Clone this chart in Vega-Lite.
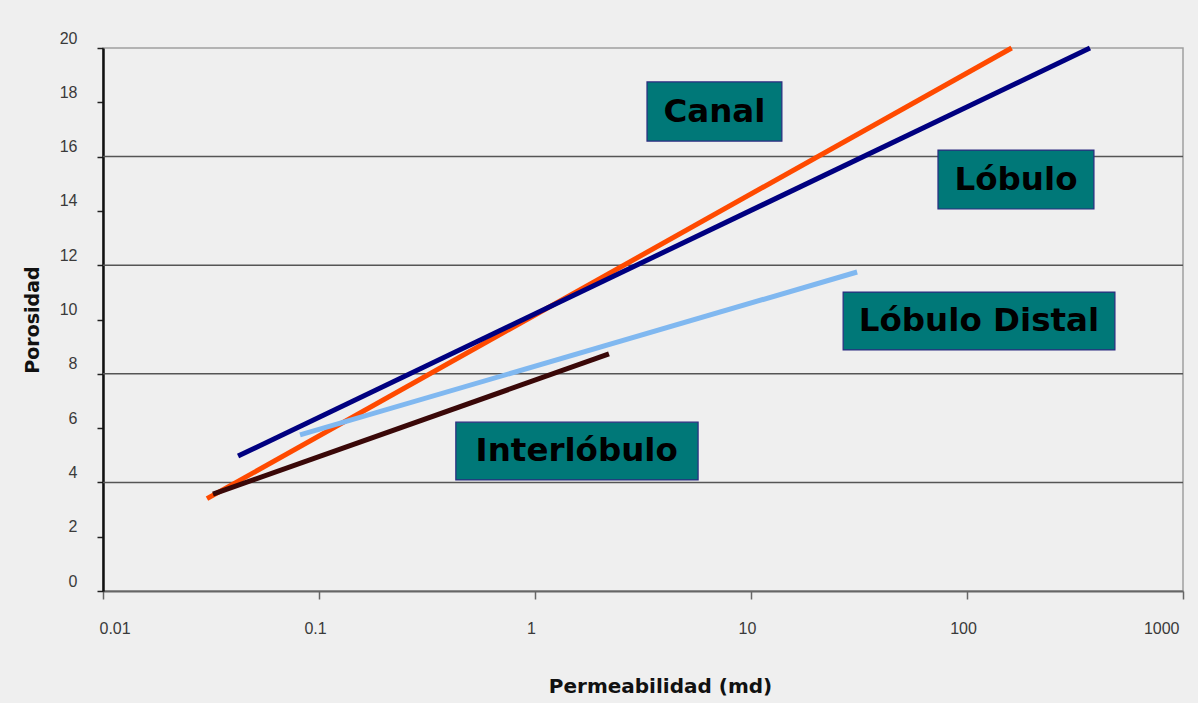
{
  "$schema": "https://vega.github.io/schema/vega-lite/v6.json",
  "width": 1080,
  "height": 543,
  "autosize": "none",
  "padding": {"left": 103, "top": 48, "right": 15, "bottom": 112},
  "background": "#efefef",
  "config": {
    "view": {"stroke": "#a0a0a0", "strokeWidth": 1.5},
    "font": "Liberation Sans"
  },
  "datasets": {
    "lines": [
      {"serie": "Canal", "perm": 0.0303, "poro": 3.4},
      {"serie": "Canal", "perm": 161, "poro": 20},
      {"serie": "Lóbulo", "perm": 0.0422, "poro": 4.97},
      {"serie": "Lóbulo", "perm": 371, "poro": 20},
      {"serie": "Lóbulo Distal", "perm": 0.0817, "poro": 5.75},
      {"serie": "Lóbulo Distal", "perm": 31, "poro": 11.75},
      {"serie": "Interlóbulo", "perm": 0.0323, "poro": 3.57},
      {"serie": "Interlóbulo", "perm": 2.2, "poro": 8.73}
    ],
    "grid": [{"poro": 4}, {"poro": 8}, {"poro": 12}, {"poro": 16}],
    "labels": [
      {"label": "Canal", "perm1": 3.3, "perm2": 13.9, "poro1": 18.75, "poro2": 16.57, "perm": 6.77, "poro": 17.66},
      {"label": "Lóbulo", "perm1": 73.4, "perm2": 387, "poro1": 16.24, "poro2": 14.07, "perm": 168.6, "poro": 15.15},
      {"label": "Lóbulo Distal", "perm1": 26.7, "perm2": 484, "poro1": 11.01, "poro2": 8.88, "perm": 113.6, "poro": 9.94},
      {"label": "Interlóbulo", "perm1": 0.43, "perm2": 5.69, "poro1": 6.22, "poro2": 4.09, "perm": 1.56, "poro": 5.15}
    ]
  },
  "layer": [
    {
      "data": {"name": "grid"},
      "mark": {"type": "rule", "color": "#555555", "strokeWidth": 1.5},
      "encoding": {
        "y": {"field": "poro", "type": "quantitative", "scale": {"domain": [0, 20], "nice": false}}
      }
    },
    {
      "data": {"name": "lines"},
      "mark": {"type": "line", "strokeWidth": 5, "strokeCap": "butt"},
      "encoding": {
        "x": {
          "field": "perm", "type": "quantitative",
          "scale": {"type": "log", "domain": [0.01, 1000], "nice": false},
          "axis": {
            "title": "Permeabilidad (md)",
            "values": [0.01, 0.1, 1, 10, 100, 1000],
            "format": "~g",
            "grid": false,
            "domainColor": "#666666", "domainWidth": 2,
            "tickColor": "#666666", "tickWidth": 1.5, "tickSize": 8,
            "labelPadding": 21, "labelOffset": -4,
            "labelFontSize": 16, "labelColor": "#3a3a3a",
            "titleFont": "DejaVu Sans", "titleFontSize": 20, "titleFontWeight": "bold", "titleColor": "#111111",
            "titlePadding": 40, "titleX": 557, "titleAlign": "center"
          }
        },
        "y": {
          "field": "poro", "type": "quantitative",
          "scale": {"domain": [0, 20], "nice": false},
          "axis": {
            "title": "Porosidad",
            "values": [0, 2, 4, 6, 8, 10, 12, 14, 16, 18, 20],
            "grid": false,
            "domainColor": "#111111", "domainWidth": 2.5,
            "tickColor": "#222222", "tickWidth": 1.5, "tickSize": 6,
            "labelPadding": 20, "labelOffset": -10,
            "labelFontSize": 16, "labelColor": "#3a3a3a",
            "titleFont": "DejaVu Sans", "titleFontSize": 19, "titleFontWeight": "bold", "titleColor": "#111111",
            "titlePadding": 17
          }
        },
        "color": {
          "field": "serie", "type": "nominal",
          "scale": {
            "domain": ["Canal", "Lóbulo", "Lóbulo Distal", "Interlóbulo"],
            "range": ["#ff4a00", "#000080", "#80b8f0", "#3a0808"]
          },
          "legend": null
        },
        "order": {"field": "perm", "type": "quantitative"}
      }
    },
    {
      "data": {"name": "labels"},
      "mark": {"type": "rect", "fill": "#007878", "stroke": "#2b2b80", "strokeWidth": 1.2},
      "encoding": {
        "x": {"field": "perm1", "type": "quantitative"},
        "x2": {"field": "perm2"},
        "y": {"field": "poro1", "type": "quantitative"},
        "y2": {"field": "poro2"}
      }
    },
    {
      "data": {"name": "labels"},
      "mark": {"type": "text", "font": "DejaVu Sans", "fontWeight": "bold", "fontSize": 32.5, "color": "#000000", "align": "center", "baseline": "middle"},
      "encoding": {
        "x": {"field": "perm", "type": "quantitative"},
        "y": {"field": "poro", "type": "quantitative"},
        "text": {"field": "label"}
      }
    }
  ]
}
